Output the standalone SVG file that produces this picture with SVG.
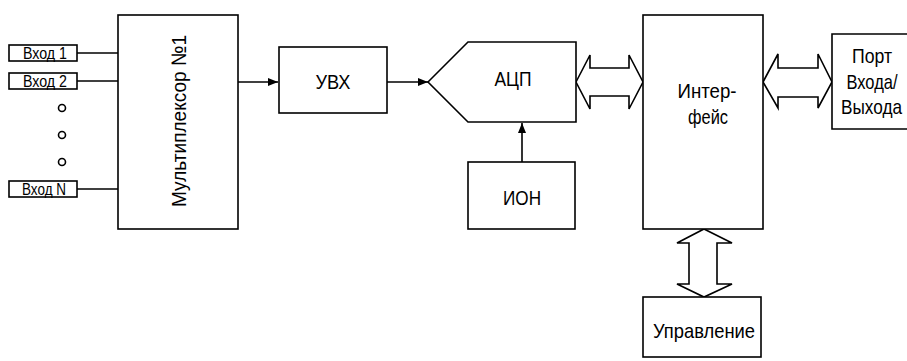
<svg xmlns="http://www.w3.org/2000/svg" width="907" height="361" viewBox="0 0 907 361">
<style>
.b{fill:#fff;stroke:#000;stroke-width:1.6}
.l{fill:none;stroke:#000;stroke-width:1.6}
.t{font-family:"Liberation Sans",Arial,sans-serif;font-size:21px;fill:#000;text-anchor:middle}
.s{font-family:"Liberation Sans",Arial,sans-serif;font-size:16.5px;fill:#000;text-anchor:middle}
</style>
<defs>
<marker id="a" viewBox="0 0 10 10" refX="10" refY="5" markerWidth="10" markerHeight="10" markerUnits="userSpaceOnUse" orient="auto">
<path d="M0,1 L10,5 L0,9 Z" fill="#000"/>
</marker>
</defs>
<rect width="907" height="361" fill="#fff"/>
<g id="connectors">
<line class="l" x1="77" y1="53" x2="118" y2="53"/>
<line class="l" x1="77" y1="81" x2="118" y2="81"/>
<line class="l" x1="77" y1="189" x2="118" y2="189"/>
<line class="l" x1="238" y1="82" x2="278" y2="82" marker-end="url(#a)"/>
<line class="l" x1="387" y1="82" x2="428" y2="82" marker-end="url(#a)"/>
<line class="l" x1="522" y1="162" x2="522" y2="123" marker-end="url(#a)"/>
<path class="b" d="M576,82 L590,55 L590,68 L629,68 L629,55 L643,82 L629,109 L629,96 L590,96 L590,109 Z"/>
<path class="b" d="M763,82 L778,54 L778,68 L818,68 L818,54 L832,82 L818,108 L818,97 L778,97 L778,108 Z"/>
<path class="b" d="M704,229 L732,243 L717,243 L717,284 L732,284 L704,297 L677,284 L689,284 L689,243 L677,243 Z"/>
</g>
<g id="in1"><rect class="b" x="9" y="45" width="68" height="16"/><text class="s" x="45" y="59" textLength="44" lengthAdjust="spacingAndGlyphs">Вход 1</text></g>
<g id="in2"><rect class="b" x="9" y="73" width="68" height="16"/><text class="s" x="45" y="87" textLength="44" lengthAdjust="spacingAndGlyphs">Вход 2</text></g>
<g id="dots">
<circle class="l" cx="62" cy="108" r="3.5" stroke-width="2.4"/>
<circle class="l" cx="62" cy="135" r="3.5" stroke-width="2.4"/>
<circle class="l" cx="62" cy="162" r="3.5" stroke-width="2.4"/>
</g>
<g id="inN"><rect class="b" x="9" y="181" width="68" height="16"/><text class="s" x="44" y="195" textLength="44" lengthAdjust="spacingAndGlyphs">Вход N</text></g>
<g id="mux"><rect class="b" x="118" y="15" width="120" height="214"/>
<text class="t" transform="translate(186,121) rotate(-90)" textLength="172" lengthAdjust="spacingAndGlyphs" font-size="24">Мультиплексор №1</text></g>
<g id="uvx"><rect class="b" x="279" y="47" width="108" height="66"/><text class="t" x="333" y="88.5" textLength="35" lengthAdjust="spacingAndGlyphs">УВХ</text></g>
<g id="adc"><path class="b" d="M428,82 L468,42 L576,42 L576,122 L468,122 Z"/><text class="t" x="513" y="86" textLength="37" lengthAdjust="spacingAndGlyphs">АЦП</text></g>
<g id="ion"><rect class="b" x="468" y="162" width="107" height="67"/><text class="t" x="522" y="204.5" textLength="38" lengthAdjust="spacingAndGlyphs">ИОН</text></g>
<g id="iface"><rect class="b" x="643" y="15" width="120" height="214"/>
<text class="t" x="707" y="97.5" textLength="59" lengthAdjust="spacingAndGlyphs">Интер-</text>
<text class="t" x="708" y="123.5" textLength="40" lengthAdjust="spacingAndGlyphs">фейс</text></g>
<g id="port"><path class="b" d="M907,34 L832,34 L832,129 L907,129"/>
<text class="t" x="872" y="62.5" textLength="40" lengthAdjust="spacingAndGlyphs">Порт</text>
<text class="t" x="872" y="88.5" textLength="51" lengthAdjust="spacingAndGlyphs">Входа/</text>
<text class="t" x="871.5" y="113.5" textLength="61" lengthAdjust="spacingAndGlyphs">Выхода</text></g>
<g id="ctrl"><rect class="b" x="643" y="297" width="118" height="60"/><text class="t" x="704" y="337.5" textLength="102" lengthAdjust="spacingAndGlyphs">Управление</text></g>
</svg>
